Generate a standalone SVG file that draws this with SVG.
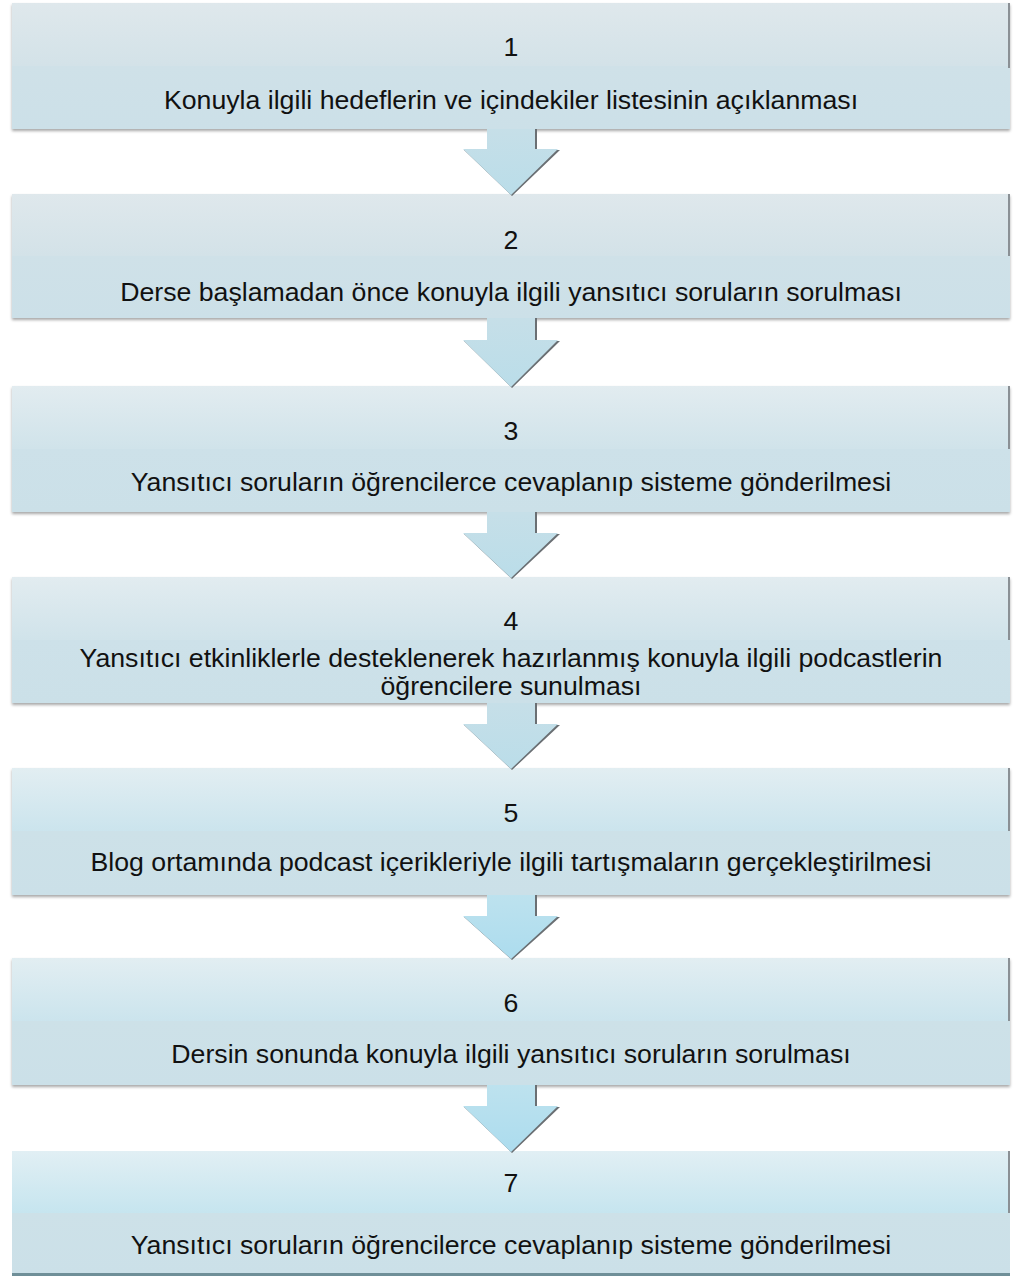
<svg xmlns="http://www.w3.org/2000/svg" width="1014" height="1276" viewBox="0 0 1014 1276">
<defs>
<linearGradient id="g1" x1="0" y1="0" x2="0" y2="1">
<stop offset="0" stop-color="#dfe8ec"/><stop offset="0.5" stop-color="#d3e2e8"/><stop offset="0.5" stop-color="#cfe1e8"/><stop offset="1" stop-color="#cce0e8"/>
</linearGradient>
<linearGradient id="g2" x1="0" y1="0" x2="0" y2="1">
<stop offset="0" stop-color="#e2ecf0"/><stop offset="0.5" stop-color="#d0e3ea"/><stop offset="0.5" stop-color="#cde1e9"/><stop offset="1" stop-color="#cbe0e8"/>
</linearGradient>
<linearGradient id="g3" x1="0" y1="0" x2="0" y2="1">
<stop offset="0" stop-color="#e2eef2"/><stop offset="0.5" stop-color="#cbe4ed"/><stop offset="0.5" stop-color="#cde1e8"/><stop offset="1" stop-color="#cbe0e8"/>
</linearGradient>
<linearGradient id="g4" x1="0" y1="0" x2="0" y2="1">
<stop offset="0" stop-color="#e1eff4"/><stop offset="0.5" stop-color="#c6e5ef"/><stop offset="0.5" stop-color="#cde1e8"/><stop offset="1" stop-color="#cbe0e8"/>
</linearGradient>
<linearGradient id="ga" x1="0" y1="0" x2="0" y2="1">
<stop offset="0" stop-color="#c6dfe8"/><stop offset="1" stop-color="#badde9"/>
</linearGradient>
<linearGradient id="gb" x1="0" y1="0" x2="0" y2="1">
<stop offset="0" stop-color="#bde2ee"/><stop offset="1" stop-color="#acdcee"/>
</linearGradient>
<filter id="sh" x="-5%" y="-10%" width="110%" height="130%">
<feGaussianBlur in="SourceAlpha" stdDeviation="1.5"/>
<feOffset dx="0" dy="2" result="b"/>
<feComponentTransfer><feFuncA type="linear" slope="0.35"/></feComponentTransfer>
<feMerge><feMergeNode/><feMergeNode in="SourceGraphic"/></feMerge>
</filter>
</defs>
<style>
text{font-family:"Liberation Sans",Arial,sans-serif;font-size:26.7px;fill:#111;text-anchor:middle}
.edge{fill:#8a9095}
.ash{fill:#6a6f73}
</style>
<rect width="1014" height="1276" fill="#ffffff"/>
<g id="node1"><rect x="12" y="3" width="998" height="126" fill="url(#g1)" filter="url(#sh)"/><rect class="edge" x="1008" y="3" width="2" height="65"/><text x="511" y="56">1</text><text x="511" y="109">Konuyla ilgili hedeflerin ve içindekiler listesinin açıklanması</text></g>
<g id="node2"><rect x="12" y="194" width="998" height="124" fill="url(#g1)" filter="url(#sh)"/><rect class="edge" x="1008" y="194" width="2" height="62"/><text x="511" y="249">2</text><text x="511" y="301">Derse başlamadan önce konuyla ilgili yansıtıcı soruların sorulması</text></g>
<g id="node3"><rect x="12" y="386" width="998" height="126" fill="url(#g2)" filter="url(#sh)"/><rect class="edge" x="1008" y="386" width="2" height="63"/><text x="511" y="440">3</text><text x="511" y="491">Yansıtıcı soruların öğrencilerce cevaplanıp sisteme gönderilmesi</text></g>
<g id="node4"><rect x="12" y="577" width="998" height="126" fill="url(#g2)" filter="url(#sh)"/><rect class="edge" x="1008" y="577" width="2" height="63"/><text x="511" y="630">4</text><text x="511" y="667">Yansıtıcı etkinliklerle desteklenerek hazırlanmış konuyla ilgili podcastlerin</text><text x="511" y="695">öğrencilere sunulması</text></g>
<g id="node5"><rect x="12" y="768" width="998" height="127" fill="url(#g3)" filter="url(#sh)"/><rect class="edge" x="1008" y="768" width="2" height="63"/><text x="511" y="822">5</text><text x="511" y="871">Blog ortamında podcast içerikleriyle ilgili tartışmaların gerçekleştirilmesi</text></g>
<g id="node6"><rect x="12" y="958" width="998" height="127" fill="url(#g3)" filter="url(#sh)"/><rect class="edge" x="1008" y="958" width="2" height="63"/><text x="511" y="1012">6</text><text x="511" y="1063">Dersin sonunda konuyla ilgili yansıtıcı soruların sorulması</text></g>
<g id="node7"><rect x="12" y="1151" width="998" height="124" fill="url(#g4)"/><rect class="edge" x="1008" y="1151" width="2" height="62"/><rect x="12" y="1273" width="998" height="3" fill="#6f8f98"/><text x="511" y="1192">7</text><text x="511" y="1254">Yansıtıcı soruların öğrencilerce cevaplanıp sisteme gönderilmesi</text></g>
<g id="connectors">
<g transform="translate(0,129)"><polygon class="ash" points="488,0 537,0 537,21 560,21 512,67 464,21 488,21"/><polygon fill="url(#ga)" points="487,0 535,0 535,20 558,20 511,66 463,20 487,20"/></g>
<g transform="translate(0,318)"><polygon class="ash" points="488,0 537,0 537,23 560,23 512,70 464,23 488,23"/><polygon fill="url(#ga)" points="487,0 535,0 535,22 558,22 511,69 463,22 487,22"/></g>
<g transform="translate(0,512)"><polygon class="ash" points="488,0 537,0 537,22 560,22 512,67 464,22 488,22"/><polygon fill="url(#ga)" points="487,0 535,0 535,21 558,21 511,66 463,21 487,21"/></g>
<g transform="translate(0,703)"><polygon class="ash" points="488,0 537,0 537,22 560,22 512,67 464,22 488,22"/><polygon fill="url(#ga)" points="487,0 535,0 535,21 558,21 511,66 463,21 487,21"/></g>
<g transform="translate(0,895)"><polygon class="ash" points="488,0 537,0 537,22 560,22 512,65 464,22 488,22"/><polygon fill="url(#gb)" points="487,0 535,0 535,21 558,21 511,64 463,21 487,21"/></g>
<g transform="translate(0,1085)"><polygon class="ash" points="488,0 537,0 537,22 560,22 512,68 464,22 488,22"/><polygon fill="url(#gb)" points="487,0 535,0 535,21 558,21 511,67 463,21 487,21"/></g>
</g>
</svg>
